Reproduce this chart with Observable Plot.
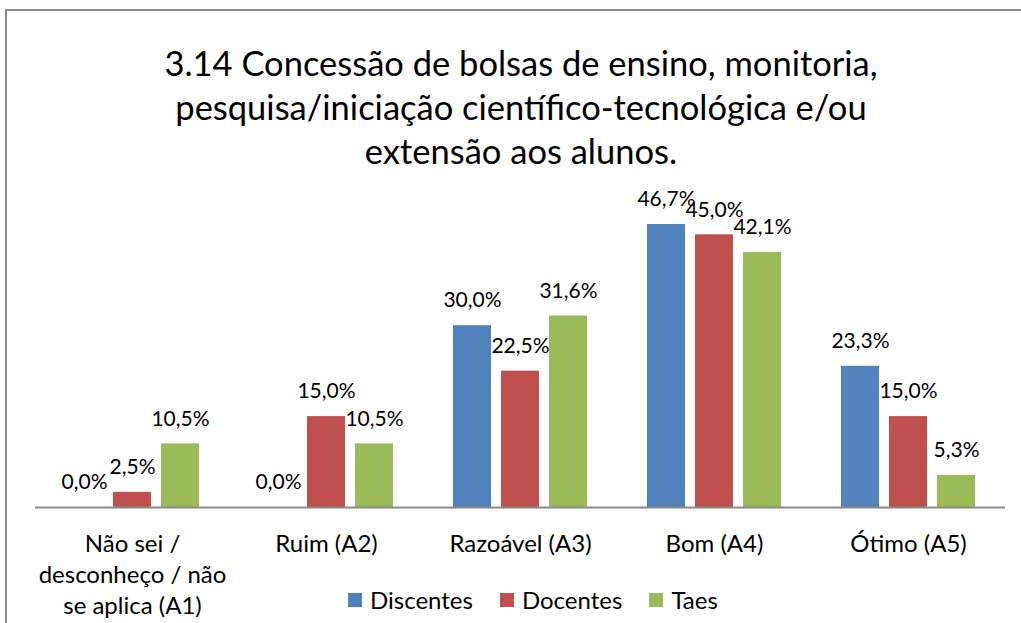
<!DOCTYPE html>
<html>
<head>
<meta charset="utf-8">
<script src="https://cdn.jsdelivr.net/npm/d3@7"></script>
<script src="https://cdn.jsdelivr.net/npm/@observablehq/plot@0.6"></script>
<style>
  html, body { margin:0; padding:0; background:#fff; overflow:hidden; }
  body { width:1021px; height:623px; position:relative; font-family: Lato, "Open Sans", sans-serif; color:#000; }
  #frame { position:absolute; left:5px; top:9px; width:1040px; height:650px; border:2px solid #898989; box-sizing:border-box; }
  #title { position:absolute; left:0; top:41px; width:1042px; text-align:center; font-size:34.5px; line-height:44px; }
  #chart { position:absolute; left:0; top:180px; }
  #legend { position:absolute; left:348px; top:588px; display:flex; align-items:center; font-size:24px; line-height:24px; }
  .item { display:flex; align-items:center; margin-right:27px; }
  .sw { width:14px; height:14px; margin-right:8px; }
</style>
</head>
<body>
<div id="frame"></div>
<div id="title">3.14 Concessão de bolsas de ensino, monitoria,<br>pesquisa/iniciação científico-tecnológica e/ou<br>extensão aos alunos.</div>
<div id="chart"></div>
<div id="legend"></div>
<script>
const categories = ["Não sei / desconheço / não se aplica (A1)", "Ruim (A2)", "Razoável (A3)", "Bom (A4)", "Ótimo (A5)"];
const categoryLabels = ["Não sei /\ndesconheço / não\nse aplica (A1)", "Ruim (A2)", "Razoável (A3)", "Bom (A4)", "Ótimo (A5)"];
const series = ["Discentes", "Docentes", "Taes"];
const discentes = [0.0, 0.0, 30.0, 46.7, 23.3];
const docentes = [2.5, 15.0, 22.5, 45.0, 15.0];
const taes = [10.5, 10.5, 31.6, 42.1, 5.3];
const colors = ["#4F81BD", "#C0504D", "#9BBB59"];

const valuesBySeries = [discentes, docentes, taes];
const data = [];
series.forEach((s, si) => {
  categories.forEach((c, ci) => {
    data.push({category: c, series: s, value: valuesBySeries[si][ci]});
  });
});
const fmt = v => v.toFixed(1).replace(".", ",") + "%";

const chart = Plot.plot({
  width: 1021,
  height: 443,
  marginTop: 24,
  marginBottom: 116,
  marginLeft: 35,
  marginRight: 16,
  style: {fontFamily: "Lato, 'Open Sans', sans-serif", fontSize: "21px", color: "#000", background: "transparent"},
  fx: {domain: categories, padding: 0, label: null},
  x: {domain: series, paddingInner: 0.2, paddingOuter: 0.6, axis: null},
  y: {domain: [0, 50], axis: null},
  color: {domain: series, range: colors},
  marks: [
    Plot.barY(data, {fx: "category", x: "series", y: "value", fill: "series"}),
    Plot.ruleY([0], {stroke: "#898989", strokeWidth: 2}),
    Plot.text(data, {fx: "category", x: "series", y: "value", text: d => fmt(d.value), dy: -25, fontSize: 21, fill: "#000"}),
    Plot.axisFx({anchor: "bottom", tickSize: 0, tickPadding: 22, label: null, lineHeight: 1.3, fontSize: 24,
      tickFormat: d => categoryLabels[categories.indexOf(d)]})
  ]
});
document.getElementById("chart").appendChild(chart);

const legend = document.getElementById("legend");
series.forEach((s, i) => {
  const item = document.createElement("div");
  item.className = "item";
  const sw = document.createElement("div");
  sw.className = "sw";
  sw.style.background = colors[i];
  const t = document.createElement("span");
  t.textContent = s;
  item.appendChild(sw);
  item.appendChild(t);
  legend.appendChild(item);
});
</script>
</body>
</html>
